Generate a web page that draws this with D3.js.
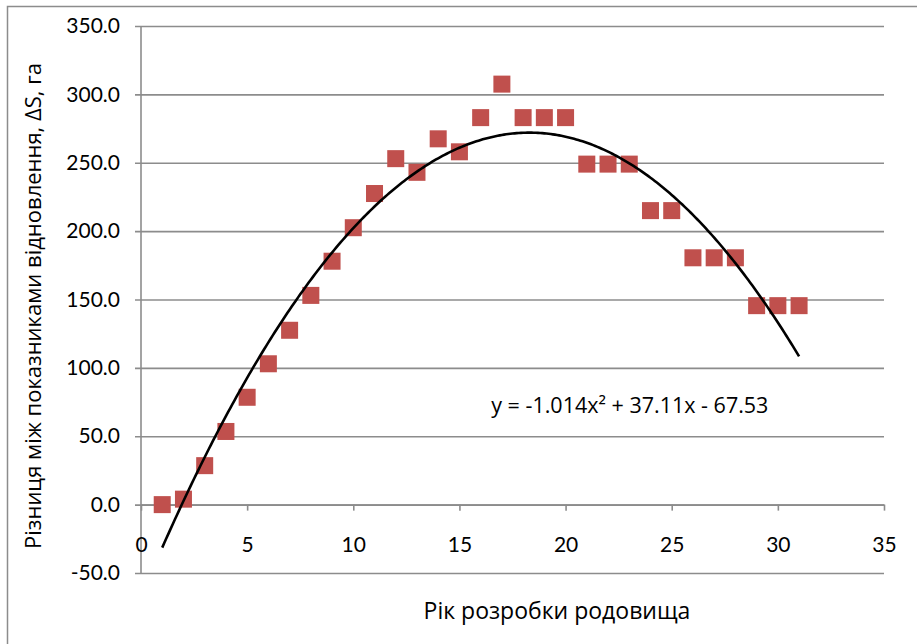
<!DOCTYPE html>
<html>
<head>
<meta charset="utf-8">
<script src="https://cdn.jsdelivr.net/npm/d3@7"></script>
<style>
  body { margin: 0; background: #fff; }
  text { font-family: Lato, "Open Sans", sans-serif; fill: #000; }
  .title { font-family: "Open Sans", Lato, sans-serif; }
</style>
</head>
<body>
<div id="chart-area"></div>
<script>
const WIDTH = 917
const HEIGHT = 644
const MARGIN = { LEFT: 141, RIGHT: 33, TOP: 26, BOTTOM: 71 }

// years of field development
const years = [1, 2, 3, 4, 5, 6, 7, 8, 9, 10, 11, 12, 13, 14, 15, 16,
  17, 18, 19, 20, 21, 22, 23, 24, 25, 26, 27, 28, 29, 30, 31]
// difference between restoration indicators, ha
const deltaS = [0, 4, 28.5, 53.5, 78.5, 103, 127.5, 153, 178, 202.5, 227.5, 253,
  243, 267.5, 258, 283, 307.5, 283, 283, 283, 249, 249, 249, 215, 215,
  180.5, 180.5, 180.5, 145.5, 145.5, 145.5]
// trend line coefficients (a*x^2 + b*x + c), as printed on the chart
const trendCoef = [-1.014, 37.11, -67.53]
const trendLabel = "y = -1.014x\u00B2 + 37.11x - 67.53"
const xTicks = [0, 5, 10, 15, 20, 25, 30, 35]
const yTicks = [-50, 0, 50, 100, 150, 200, 250, 300, 350]

const innerW = WIDTH - MARGIN.LEFT - MARGIN.RIGHT
const innerH = HEIGHT - MARGIN.TOP - MARGIN.BOTTOM

const svg = d3.select('#chart-area').append('svg')
  .attr('width', WIDTH)
  .attr('height', HEIGHT)

// chart area border (runs off the right / bottom edge)
svg.append('rect')
  .attr('x', 7.5)
  .attr('y', 6.5)
  .attr('width', WIDTH + 20)
  .attr('height', HEIGHT + 20)
  .attr('fill', 'none')
  .attr('stroke', '#8c8c8c')
  .attr('stroke-width', 1.5)

const g = svg.append('g')
  .attr('transform', `translate(${MARGIN.LEFT}, ${MARGIN.TOP})`)

const x = d3.scaleLinear().domain([0, 35]).range([0, innerW])
const y = d3.scaleLinear().domain([-50, 350]).range([innerH, 0])

// horizontal gridlines + y axis
const yAxisCall = d3.axisLeft(y)
  .tickValues(yTicks)
  .tickSize(-innerW)
  .tickPadding(21)
  .tickFormat(d => d.toFixed(1))
const yAxis = g.append('g').attr('class', 'y-axis').call(yAxisCall)
yAxis.select('.domain').remove()
yAxis.selectAll('.tick line')
  .attr('x1', -6)
  .attr('stroke', '#8c8c8c')
  .attr('stroke-width', 1.6)
yAxis.selectAll('.tick text')
  .attr('font-size', '21px')
  .style('font-family', 'Lato, "Open Sans", sans-serif')

g.append('line')
  .attr('x1', 0).attr('x2', 0)
  .attr('y1', 0).attr('y2', innerH)
  .attr('stroke', '#8c8c8c')
  .attr('stroke-width', 1.6)

// x axis crossing at y = 0
const xAxisCall = d3.axisBottom(x)
  .tickValues(xTicks)
  .tickSize(6)
  .tickSizeOuter(0)
  .tickPadding(26)
  .tickFormat(d => String(d))
const xAxis = g.append('g')
  .attr('class', 'x-axis')
  .attr('transform', `translate(0, ${y(0)})`)
  .call(xAxisCall)
xAxis.select('.domain').attr('stroke', '#8c8c8c').attr('stroke-width', 1.6)
xAxis.selectAll('.tick line').attr('stroke', '#8c8c8c').attr('stroke-width', 1.6)
xAxis.selectAll('.tick text')
  .attr('font-size', '21px')
  .style('font-family', 'Lato, "Open Sans", sans-serif')

// data points
g.selectAll('rect.pt').data(years)
  .enter()
  .append('rect')
  .attr('class', 'pt')
  .attr('x', d => x(d) - 8.5)
  .attr('y', (d, i) => y(deltaS[i]) - 8.5)
  .attr('width', 17)
  .attr('height', 17)
  .attr('fill', '#c0504d')

// polynomial trend line
const trendX = d3.range(years[0], years[years.length - 1] + 0.001, 0.1)
const line = d3.line()
  .x(d => x(d))
  .y(d => y(trendCoef[0] * d * d + trendCoef[1] * d + trendCoef[2]))
g.append('path')
  .datum(trendX)
  .attr('d', line)
  .attr('fill', 'none')
  .attr('stroke', '#000')
  .attr('stroke-width', 2.6)

g.append('text')
  .attr('class', 'title')
  .attr('x', x(16.5))
  .attr('y', y(67))
  .attr('font-size', '21.5px')
  .text(trendLabel)

// axis titles
svg.append('text')
  .attr('class', 'title')
  .attr('x', 557)
  .attr('y', 619)
  .attr('font-size', '23px')
  .attr('text-anchor', 'middle')
  .text('Рік розробки родовища')

svg.append('text')
  .attr('class', 'title')
  .attr('transform', 'translate(41, 306) rotate(-90)')
  .attr('font-size', '22px')
  .attr('text-anchor', 'middle')
  .text('Різниця між показниками відновлення, ΔS, га')
</script>
</body>
</html>
